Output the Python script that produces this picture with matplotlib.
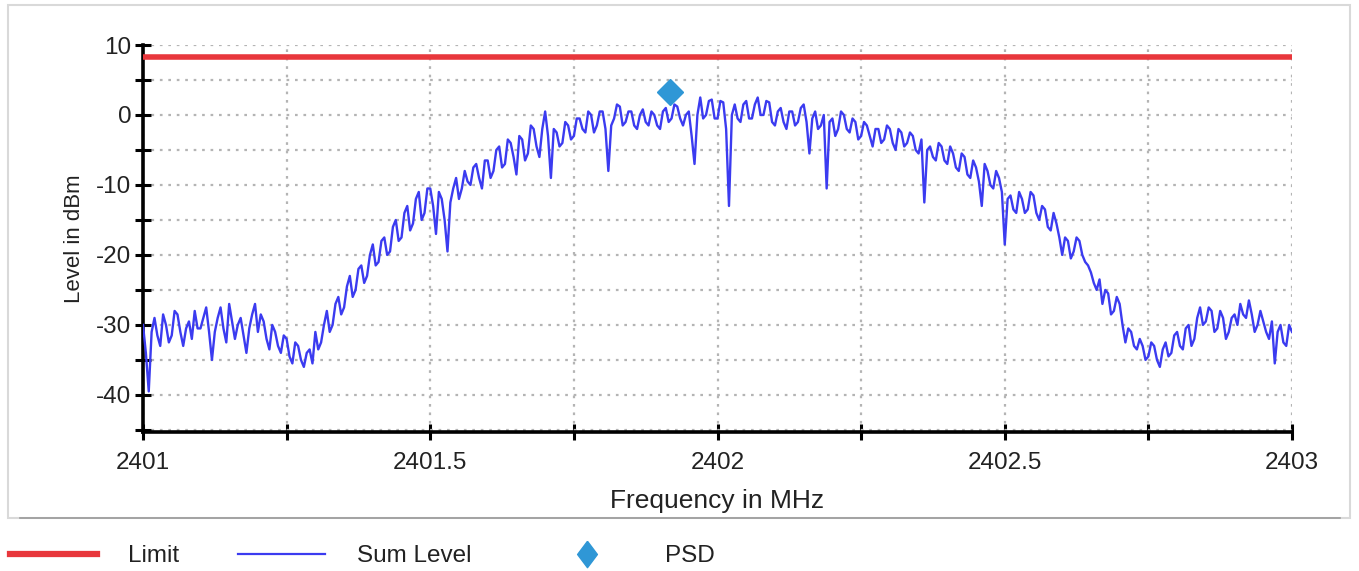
import matplotlib.pyplot as plt
import numpy as np
from matplotlib.lines import Line2D
from matplotlib.patches import Rectangle
from matplotlib.ticker import MultipleLocator

plt.rcParams["font.family"] = ["Liberation Sans", "DejaVu Sans"]
plt.rcParams["axes.unicode_minus"] = False

# Sweep: 2401 .. 2403 MHz in 5 kHz steps, one row per 100 kHz
freq_start_mhz = 2401.0
freq_step_mhz = 0.005
sum_level_dbm = [
    -30.0, -34.0, -39.5, -31.0, -29.0, -31.5, -33.0, -28.5, -30.0, -32.5, -31.5, -28.0, -28.5, -31.0, -33.0, -30.5, -29.5, -32.0, -28.0, -30.5,
    -30.5, -29.0, -27.5, -31.0, -35.0, -31.0, -29.0, -27.5, -30.5, -32.5, -27.0, -29.5, -32.0, -30.0, -29.0, -31.5, -34.0, -30.5, -28.5, -27.0,
    -31.0, -28.5, -29.5, -32.0, -33.5, -30.0, -31.0, -33.0, -34.0, -31.5, -32.0, -34.5, -35.5, -32.5, -33.0, -35.0, -36.0, -34.0, -33.5, -35.5,
    -31.0, -33.5, -32.5, -30.0, -28.0, -31.0, -30.0, -27.0, -26.0, -28.5, -27.5, -24.5, -23.0, -26.0, -25.0, -22.0, -21.5, -24.0, -23.0, -20.0,
    -18.5, -21.5, -21.0, -18.0, -17.5, -20.0, -19.5, -16.0, -15.0, -18.0, -17.5, -14.0, -13.0, -16.5, -15.5, -12.0, -11.0, -15.0, -14.0, -10.5,
    -10.5, -13.0, -17.0, -11.0, -12.0, -15.0, -19.5, -12.5, -10.5, -9.0, -12.0, -10.5, -8.0, -9.5, -10.0, -7.5, -7.0, -9.0, -10.5, -6.5,
    -6.5, -9.0, -8.0, -5.0, -4.5, -7.5, -7.0, -3.5, -4.0, -6.0, -8.5, -3.0, -3.5, -6.5, -5.5, -1.5, -2.0, -4.5, -6.0, -2.0,
    0.5, -3.0, -9.0, -2.0, -2.5, -4.5, -4.0, -1.0, -1.5, -3.5, -3.0, -0.5, -0.5, -2.0, -2.5, 0.5, 0.0, -2.5, -1.5, 0.5,
    0.5, -2.0, -8.0, -1.5, -0.5, 1.5, 1.2, -1.5, -1.0, 0.5, 0.5, -1.5, -2.0, 0.0, 0.8, -1.0, -1.5, 0.5, 0.0, -1.5,
    -2.0, 0.5, 1.0, -1.0, -0.5, 1.5, 1.2, -0.5, -1.5, 0.0, 0.5, -3.0, -7.0, 0.0, 2.5, -0.5, 0.0, 2.0, 2.2, -0.5,
    -0.5, 2.0, 1.8, -2.0, -13.0, 0.0, 1.5, -0.5, -1.0, 1.5, 2.0, -0.5, -0.5, 1.5, 2.5, 0.0, 0.0, 2.0, 1.8, -1.0,
    -1.5, 0.5, 1.0, -1.0, -2.0, 0.5, 0.5, -1.5, -1.0, 1.0, 1.5, -1.0, -5.5, -0.5, 0.5, -2.0, -1.5, 0.0, -10.5, -1.0,
    -0.5, -3.0, -2.0, 0.5, 0.0, -2.0, -2.5, -0.5, -1.0, -3.5, -3.0, -1.0, -1.5, -3.0, -4.5, -2.0, -2.0, -4.0, -3.5, -1.5,
    -2.0, -4.0, -5.0, -2.0, -2.5, -4.5, -4.0, -2.5, -3.0, -5.0, -5.5, -3.5, -12.5, -5.0, -4.5, -6.0, -6.5, -4.0, -4.5, -6.5,
    -7.0, -4.5, -5.5, -7.5, -8.0, -5.5, -6.0, -8.5, -9.0, -6.5, -7.5, -9.5, -13.0, -7.0, -8.0, -10.0, -10.5, -8.0, -9.0, -11.0,
    -18.5, -12.0, -11.5, -13.5, -14.0, -11.0, -12.0, -14.0, -13.5, -11.0, -11.5, -14.0, -15.0, -13.0, -13.5, -16.0, -16.5, -14.0, -15.5, -17.5,
    -20.0, -17.5, -18.0, -20.5, -19.5, -17.5, -18.0, -20.0, -21.0, -21.5, -22.5, -24.0, -25.0, -23.5, -27.0, -25.0, -25.5, -28.5, -28.0, -26.0,
    -27.0, -30.0, -32.5, -30.5, -31.0, -33.0, -33.5, -32.0, -33.0, -35.0, -34.5, -32.5, -33.0, -35.0, -36.0, -33.5, -32.5, -34.5, -34.0, -31.5,
    -31.0, -33.0, -33.5, -30.5, -30.0, -33.0, -32.0, -29.0, -27.5, -30.0, -29.5, -27.5, -28.0, -31.0, -30.5, -28.0, -29.0, -32.0, -31.0, -29.0,
    -28.5, -30.0, -27.0, -28.5, -29.0, -26.5, -28.5, -31.0, -30.0, -28.0, -29.5, -31.0, -32.0, -29.5, -35.5, -31.0, -30.0, -32.5, -33.0, -30.0,
    -31.0,
]
limit_dbm = 8.3
psd_freq_mhz = 2401.917
psd_dbm = 3.3

freq_mhz = freq_start_mhz + freq_step_mhz * np.arange(len(sum_level_dbm))

RED = "#e8373c"
BLUE = "#3b3bf0"
PSD_BLUE = "#2f97d6"
GRID = "#b4b4b4"
TEXT = "#222222"

W, H = 1359, 571
fig = plt.figure(figsize=(W / 100, H / 100), dpi=100)
ax = fig.add_axes([143 / W, 1 - 432 / H, 1149 / W, 387 / H])

ax.plot(freq_mhz, sum_level_dbm, color=BLUE, lw=1.7, zorder=3)
ax.axhline(limit_dbm, color=RED, lw=4, zorder=4)
ax.plot([psd_freq_mhz], [psd_dbm], marker="D", ms=13.5, color=PSD_BLUE,
        ls="none", zorder=5)

ax.set_xlim(2401, 2403)
ax.set_ylim(-45.3, 10)

ax.xaxis.set_minor_locator(MultipleLocator(0.25))
ax.yaxis.set_major_locator(MultipleLocator(10))
ax.yaxis.set_minor_locator(MultipleLocator(5))
ax.set_xticks([2401, 2401.5, 2402, 2402.5, 2403])
ax.set_xticklabels(["2401", "2401.5", "2402", "2402.5", "2403"])

ax.tick_params(which="both", direction="inout", width=2.2, color="black",
               labelsize=17.5, labelcolor=TEXT)
ax.tick_params(axis="x", which="both", length=11, pad=9)
ax.tick_params(axis="y", which="both", length=11, pad=3)

ax.grid(which="both", color=GRID, ls=(0, (1.2, 2.6)), lw=1.6)
ax.set_axisbelow(True)

for side in ("top", "right"):
    ax.spines[side].set_visible(False)
for side in ("left", "bottom"):
    ax.spines[side].set_linewidth(2.6)

ax.set_xlabel("Frequency in MHz", fontsize=19, color=TEXT, labelpad=11)
ax.set_ylabel("Level in dBm", fontsize=16, color=TEXT, labelpad=8)

# light panel frame and legend separator
fig.patches.append(Rectangle((8 / W, 1 - 518 / H), 1342 / W, 513 / H,
                             transform=fig.transFigure, fill=False,
                             ec="#d9d9d9", lw=1.5))
fig.add_artist(Line2D([20 / W, 1340 / W], [1 - 518 / H] * 2,
                      transform=fig.transFigure, color="#9a9a9a", lw=1.2))

# one legend entry per slot along the bottom strip
tall_diamond = [(0, 1), (0.75, 0), (0, -1), (-0.75, 0), (0, 1)]
entries = [
    (Line2D([], [], color=RED, lw=4.5), "Limit", 10, 1.28),
    (Line2D([], [], color=BLUE, lw=1.6), "Sum Level", 238, 1.3),
    (Line2D([], [], marker=tall_diamond, ms=19, color=PSD_BLUE, ls="none"),
     "PSD", 543, 1.44),
]
for handle, label, x0, pad in entries:
    fig.legend([handle], [label], loc="center left",
               bbox_to_anchor=(x0 / W, 1 - 556 / H), frameon=False,
               fontsize=17.5, handlelength=3.58, handletextpad=pad,
               borderpad=0, borderaxespad=0, labelcolor=TEXT)

fig.savefig("out.png", dpi=100)
